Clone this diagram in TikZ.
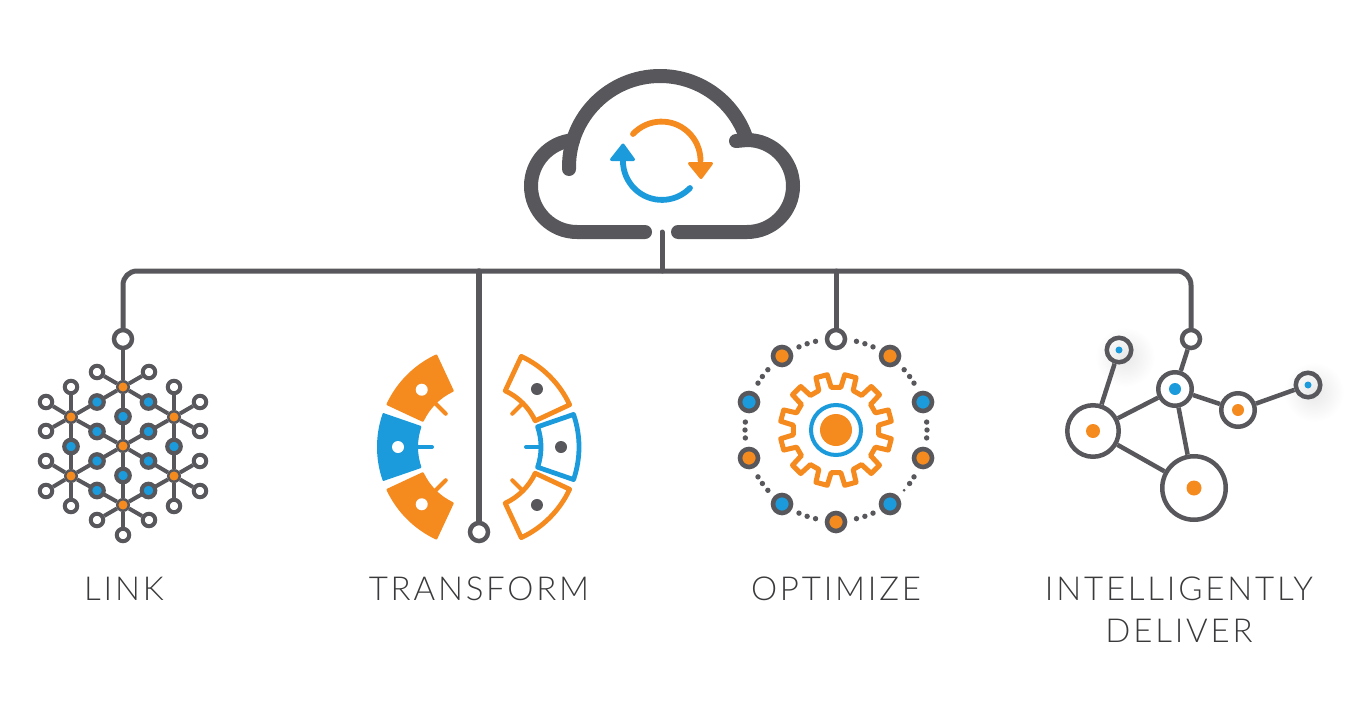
\documentclass[tikz,border=0pt]{standalone}
\usepackage{fontspec}
\newfontfamily\labelfont[LetterSpace=8.5]{Lato Light}
\definecolor{ink}{HTML}{57575C}
\definecolor{amber}{HTML}{F58A1F}
\definecolor{azure}{HTML}{1B9BDB}
\definecolor{labelink}{HTML}{3A3A3C}
\tikzset{
	wire/.style={draw=ink, line width=5pt, line cap=round},
	cloudline/.style={ink, line width=14pt, line cap=round},
	ring/.style={shape=circle, draw=ink, fill=white, line width=4.5pt, inner sep=0pt},
	port/.style={ring, minimum size=18pt},
	dot/.style={shape=circle, inner sep=0pt, minimum size=#1},
	linkline/.style={draw=ink, line width=4pt},
	linkhub/.style={shape=circle, draw=ink, fill=amber, line width=2.5pt, inner sep=0pt, minimum size=11.5pt},
	linkmid/.style={shape=circle, draw=ink, fill=azure, line width=4.2pt, inner sep=0pt, minimum size=13.5pt},
	linkleaf/.style={shape=circle, draw=ink, fill=white, line width=4pt, inner sep=0pt, minimum size=12.5pt},
	label/.style={text=labelink, font=\labelfont\fontsize{33}{39}\selectfont, align=center, inner sep=0pt},
}
\begin{document}
\begin{tikzpicture}[x=1pt, y=-1pt]
	\useasboundingbox (0, 0) rectangle (1366, 715);
	% Cloud:
	\draw[cloudline] (645, 232) -- (577, 232) arc (90:265:46);
	\draw[cloudline] (569, 169) -- (569, 167) arc (180:340:91);
	\draw[cloudline] (736, 141) -- (747, 140) arc (270:450:46) -- (678, 232);
	\draw[amber, line width=5.8pt, line cap=round] (633, 134) arc (223:360:39);
	\draw[azure, line width=5.8pt, line cap=round] (690, 188) arc (44:180:39);
	\fill[amber, draw=amber, line width=3pt, line join=round] (689.5, 163.5) -- (711.5, 163.5) -- (701, 177.5) -- cycle;
	\fill[azure, draw=azure, line width=3pt, line join=round] (611.5, 159.5) -- (633.5, 159.5) -- (623, 145) -- cycle;
	% Bus and ports:
	\node[port] (linkport) at (123, 339){};
	\node[port] (transformport) at (479, 532){};
	\node[port] (optimizeport) at (836, 339){};
	\node[port] (deliverport) at (1191, 339){};
	\coordinate (busleft) at (123, 271);
	\coordinate (busright) at (1191, 271);
	\coordinate (cloudstem) at (662, 232);
	\draw[wire, rounded corners=14pt] (linkport) -- (busleft) -- (busright) -- (deliverport);
	\draw[wire] (cloudstem) -- (cloudstem |- busleft);
	\draw[wire, line width=5.5pt] (transformport) -- (transformport |- busleft);
	\draw[wire] (optimizeport) -- (optimizeport |- busleft);
	% Link:
	\node[linkhub] (hub0) at (123, 446){};
	\foreach \i/\x/\y in {1/123/387, 2/174/417, 3/174/476, 4/123/505, 5/71/476, 6/71/417}
		\node[linkhub] (hub\i) at (\x, \y){};
	\draw[linkline] (hub1) -- (linkport);
	\foreach \a/\b in {1/2, 2/3, 3/4, 4/5, 5/6, 6/1, 0/1, 0/2, 0/3, 0/4, 0/5, 0/6}
		\draw[linkline] (hub\a) -- node[linkmid] (mid\a\b){} (hub\b);
	\foreach \h/\x/\y in {1/97/372, 1/149/372, 2/174/387, 2/200/402, 2/200/431, 3/200/461, 3/200/491, 3/174/506, 4/97/520, 4/149/520, 4/123/535, 5/46/461, 5/46/491, 5/71/506, 6/71/387, 6/46/402, 6/46/431} {
		\node[linkleaf] (leaf\x\y) at (\x, \y){};
		\draw[linkline] (hub\h) -- (leaf\x\y);
	}
	% Transform:
	\begin{scope}[shift={(479, 447)}]
		\foreach \s/\e/\c/\n in {205/245/amber/a, 161/199/azure/b, 115/155/amber/c} {
			\draw[\c, fill=\c, line width=2pt, line join=round] (\s:101) arc (\s:\e:101) -- (\e:62) arc (\e:\s:62) -- cycle;
			\draw[\c, line width=4pt, line cap=round] ({(\s+\e)/2}:62) -- ({(\s+\e)/2}:47);
			\node[dot=12pt, fill=white] (solid\n) at ({(\s+\e)/2}:81){};
		}
		\foreach \s/\e/\c/\n in {-65/-25/amber/a, -19/19/azure/b, 25/65/amber/c} {
			\draw[\c, line width=4.8pt, line join=round] (\s:100) arc (\s:\e:100) -- (\e:62) arc (\e:\s:62) -- cycle;
			\draw[\c, line width=4pt, line cap=round] ({(\s+\e)/2}:62) -- ({(\s+\e)/2}:47);
			\node[dot=12pt, fill=ink] (open\n) at ({(\s+\e)/2}:82){};
		}
	\end{scope}
	% Optimize:
	\begin{scope}[shift={(836, 430)}]
		\draw[amber, line width=5pt, line join=round] (6.5:43)
			\foreach \a in {15, 45, ..., 345} { -- ({\a-8.5}:43) -- ({\a-6}:56) -- ({\a+6}:56) -- ({\a+8.5}:43) } -- cycle;
		\node[ring, draw=azure, line width=4pt, minimum size=50pt] (gearring) at (0, 0){};
		\node[dot=32pt, fill=amber] (gearcore) at (0, 0){};
		\foreach \a in {13, 18.5, 24, 48.5, 54, 59, 85, 90, 95, 121, 126, 131.5, 156, 161.5, 167}
			\node[dot=5.4pt, fill=ink] (beadl\a) at ({270-\a}:91){};
		\foreach \a in {13, 18.5, 24, 48.5, 54, 59, 85, 90, 95, 121, 126, 156, 161.5, 167}
			\node[dot=5.4pt, fill=ink] (beadr\a) at ({270+\a}:91){};
		\node[dot=3pt, fill=ink] (beadlast) at (41.5:91){};
	\end{scope}
	\foreach \x/\y/\c in {782/356/amber, 890/356/amber, 749/402/azure, 923/402/azure, 749/458/amber, 923/458/amber, 782/504/azure, 890/504/azure, 836/522/amber}
		\node[ring, fill=\c, line width=4.6pt, minimum size=18pt] (orbit\x\y) at (\x, \y){};
	% Intelligently deliver:
	\shade[inner color=black!9, outer color=white] (1125, 357) circle (30);
	\shade[inner color=black!9, outer color=white] (1314, 392) circle (30);
	\node[ring, fill=none, minimum size=24.5pt] (netA) at (1119, 350){};
	\node[ring, minimum size=33.5pt] (netB) at (1175, 389){};
	\node[ring, minimum size=33.5pt] (netC) at (1238, 410){};
	\node[ring, fill=none, minimum size=24.5pt] (netD) at (1308, 385){};
	\node[ring, minimum size=51.5pt] (netE) at (1093, 431){};
	\node[ring, minimum size=63.5pt] (netF) at (1194, 488){};
	\foreach \a/\b in {netA/netE, netB/deliverport, netB/netE, netB/netC, netB/netF, netC/netD, netE/netF}
		\draw[ink, line width=4.5pt] (\a) -- (\b);
	\node[dot=7pt, fill=azure] (coreA) at (netA){};
	\node[dot=12pt, fill=azure] (coreB) at (netB){};
	\node[dot=12pt, fill=amber] (coreC) at (netC){};
	\node[dot=7pt, fill=azure] (coreD) at (netD){};
	\node[dot=14pt, fill=amber] (coreE) at (netE){};
	\node[dot=15pt, fill=amber] (coreF) at (netF){};
	% Labels:
	\node[label] (linklabel) at (124, 589){LINK};
	\node[label] (transformlabel) at (479, 589){TRANSFORM};
	\node[label] (optimizelabel) at (836, 589){OPTIMIZE};
	\node[label] (deliverlabel) at (1179, 610){INTELLIGENTLY\\[3pt]DELIVER};
\end{tikzpicture}
\end{document}
